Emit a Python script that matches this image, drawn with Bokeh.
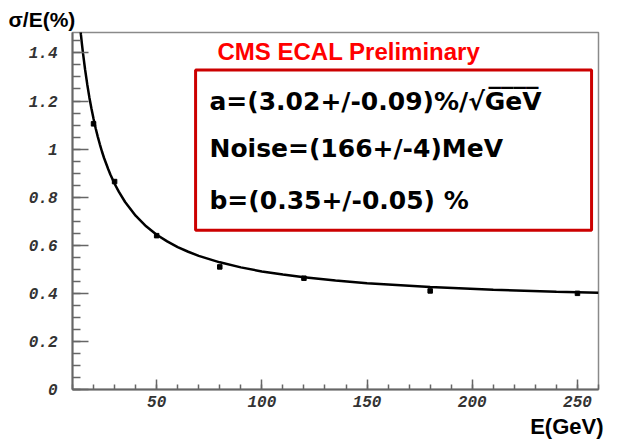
from bokeh.plotting import figure
from bokeh.models import Label, BoxAnnotation, FixedTicker, Range1d, Title
from bokeh.embed import file_html
from bokeh.resources import INLINE

# measured points (E in GeV, sigma/E in %)
energies = [20, 30, 50, 80, 120, 180, 250]
resolution = [1.105, 0.865, 0.64, 0.51, 0.463, 0.41, 0.40]

# fitted curve
curve_e = [12, 13, 14, 14.5, 15, 16, 17, 18, 19, 20, 21, 22, 23, 24, 25, 27, 28, 30,
           32, 35, 40, 45, 50, 55, 60, 65, 70, 80, 90, 100, 110, 120, 135, 150,
           180, 210, 240, 260]
curve_r = [1.672, 1.567, 1.476, 1.436, 1.398, 1.330, 1.270, 1.216, 1.169, 1.126,
           1.087, 1.052, 1.020, 0.990, 0.963, 0.916, 0.894, 0.856, 0.823, 0.780,
           0.723, 0.679, 0.644, 0.616, 0.592, 0.573, 0.556, 0.529, 0.508, 0.491,
           0.478, 0.467, 0.453, 0.442, 0.426, 0.415, 0.407, 0.402]

x_ticks = [50, 100, 150, 200, 250]
x_minor = [v for v in range(10, 261, 10)]
y_ticks = [0, 0.2, 0.4, 0.6, 0.8, 1, 1.2, 1.4]
y_tick_labels = ["0", "0.2", "0.4", "0.6", "0.8", "1", "1.2", "1.4"]
y_minor = [round(0.05 * i, 2) for i in range(0, 30)]

y_title = "σ/E(%)"
x_title = "E(GeV)"
header = "CMS ECAL Preliminary"
fit_lines = ["a=(3.02+/-0.09)%/√GeV",
             "Noise=(166+/-4)MeV",
             "b=(0.35+/-0.05) %"]
overline = "____"

p = figure(width=635, height=445, x_range=Range1d(10, 260), y_range=Range1d(0, 1.485),
           output_backend="svg", toolbar_location=None,
           min_border_left=72, min_border_right=37, min_border_top=32, min_border_bottom=56)
p.background_fill_color = "white"
p.border_fill_color = "white"
p.outline_line_color = "#8a8a8a"
p.outline_line_width = 1.5
p.grid.visible = False

for ax in (p.xaxis[0], p.yaxis[0]):
    ax.axis_line_color = "#666666"
    ax.axis_line_width = 2
    ax.major_tick_line_color = "#666666"
    ax.minor_tick_line_color = "#666666"
    ax.major_tick_line_width = 1.5
    ax.minor_tick_line_width = 1.5
    ax.major_tick_out = 0
    ax.minor_tick_out = 0
    ax.major_label_text_font = "Liberation Mono"
    ax.major_label_text_font_style = "bold italic"
    ax.major_label_text_font_size = "16px"
    ax.major_label_text_color = "#333333"

p.xaxis[0].ticker = FixedTicker(ticks=x_ticks, minor_ticks=x_minor)
p.xaxis[0].major_tick_in = 10
p.xaxis[0].minor_tick_in = 5
p.xaxis[0].major_label_standoff = 6

p.yaxis[0].ticker = FixedTicker(ticks=y_ticks, minor_ticks=y_minor)
p.yaxis[0].major_tick_in = 16
p.yaxis[0].minor_tick_in = 8
p.yaxis[0].major_label_standoff = 15
p.yaxis[0].major_label_overrides = {t: l for t, l in zip(y_ticks, y_tick_labels)}

p.line(curve_e, curve_r, line_color="black", line_width=2.5)
p.scatter(energies, resolution, marker="square", size=4.5, color="black")

p.add_layout(BoxAnnotation(left=68.5, right=256.7, bottom=0.6625, top=1.329,
                           fill_alpha=0, line_color="#cc0000", line_alpha=1.0,
                           line_width=3))

p.add_layout(Label(x=78.9, y=1.408, text=header, text_font="Liberation Sans",
                   text_font_style="bold", text_font_size="24px", text_color="#ff0000",
                   text_baseline="middle", text_align="left"))
for yv, t in zip([1.196, 1.004, 0.7875], fit_lines):
    p.add_layout(Label(x=75.1, y=yv, text=t, text_font="DejaVu Sans",
                       text_font_style="bold", text_font_size="25px", text_color="black",
                       text_baseline="middle", text_align="left"))
p.add_layout(Label(x=207.7, y=1.312, text=overline, text_font="DejaVu Sans",
                   text_font_style="bold", text_font_size="25px", text_color="black",
                   text_baseline="alphabetic", text_align="left"))

p.add_layout(Title(text=y_title, align="left", offset=-64, standoff=4,
                   text_font="Liberation Sans", text_font_style="bold",
                   text_font_size="21px", text_color="black"), "above")
p.add_layout(Title(text=x_title, align="right", offset=-5, standoff=4,
                   text_font="Liberation Sans", text_font_style="bold",
                   text_font_size="22px", text_color="black"), "below")

open("out.html", "w").write(file_html(p, INLINE))
